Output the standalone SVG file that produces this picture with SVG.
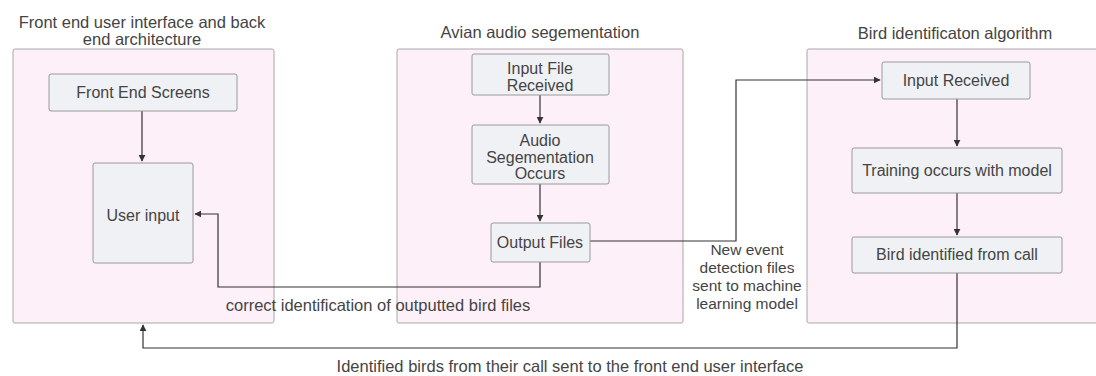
<svg xmlns="http://www.w3.org/2000/svg" width="1096" height="376" viewBox="0 0 1096 376">
  <style>
    text { font-family: "Liberation Sans", Arial, sans-serif; font-size: 16.5px; fill: #444; text-anchor: middle; }
    .label { font-size: 16px; }
    .note { font-size: 15.5px; }
    .cluster { fill: #fdf0f8; stroke: #a8a8a8; stroke-width: 1; }
    .node { fill: #f0f1f4; stroke: #9a9a9a; stroke-width: 1; }
    .edge { fill: none; stroke: #333; stroke-width: 1.2; }
  </style>
  <defs>
    <marker id="arrow" viewBox="0 0 10 10" refX="9" refY="5" markerWidth="7" markerHeight="7" orient="auto" markerUnits="userSpaceOnUse">
      <path d="M0,0 L10,5 L0,10 z" fill="#333"/>
    </marker>
  </defs>
  <rect width="1096" height="376" fill="#ffffff"/>

  <!-- clusters -->
  <g id="cluster-frontend">
    <rect class="cluster" x="13" y="49" width="261" height="274" rx="2"/>
    <text x="142" y="28">Front end user interface and back</text>
    <text x="142" y="45">end architecture</text>
  </g>
  <g id="cluster-segmentation">
    <rect class="cluster" x="397" y="49" width="286" height="274" rx="2"/>
    <text x="540" y="38">Avian audio segementation</text>
  </g>
  <g id="cluster-identification">
    <rect class="cluster" x="807" y="49" width="295" height="274" rx="2"/>
    <text x="955" y="39">Bird identificaton algorithm</text>
  </g>

  <!-- connectors -->
  <g id="connectors">
    <path class="edge" d="M142,111 V161" marker-end="url(#arrow)"/>
    <path class="edge" d="M540,95 V123" marker-end="url(#arrow)"/>
    <path class="edge" d="M540,184 V221" marker-end="url(#arrow)"/>
    <path class="edge" d="M957,99 V146" marker-end="url(#arrow)"/>
    <path class="edge" d="M957,193 V235" marker-end="url(#arrow)"/>
    <path class="edge" d="M540,262 V287 H218 V214 H195" marker-end="url(#arrow)"/>
    <path class="edge" d="M590,241 H736 V80 H880" marker-end="url(#arrow)"/>
    <path class="edge" d="M957,273 V348 H143 V325" marker-end="url(#arrow)"/>
    <text x="378" y="311">correct identification of outputted bird files</text>
    <text class="note" x="747" y="255">New event</text>
    <text class="note" x="747" y="273">detection files</text>
    <text class="note" x="747" y="291">sent to machine</text>
    <text class="note" x="747" y="309">learning model</text>
    <text x="570" y="372">Identified birds from their call sent to the front end user interface</text>
  </g>

  <!-- nodes -->
  <g id="front-end-screens">
    <rect class="node" x="49" y="74" width="188" height="37" rx="2"/>
    <text class="label" x="143" y="98">Front End Screens</text>
  </g>
  <g id="user-input">
    <rect class="node" x="93" y="163" width="100" height="100" rx="2"/>
    <text class="label" x="143" y="221">User input</text>
  </g>
  <g id="input-file-received">
    <rect class="node" x="472" y="54" width="137" height="41" rx="2"/>
    <text class="label" x="540" y="74">Input File</text>
    <text class="label" x="540" y="91">Received</text>
  </g>
  <g id="audio-segmentation">
    <rect class="node" x="472" y="125" width="137" height="59" rx="2"/>
    <text class="label" x="540" y="146">Audio</text>
    <text class="label" x="540" y="163">Segementation</text>
    <text class="label" x="540" y="179">Occurs</text>
  </g>
  <g id="output-files">
    <rect class="node" x="491" y="223" width="99" height="39" rx="2"/>
    <text class="label" x="540" y="248">Output Files</text>
  </g>
  <g id="input-received">
    <rect class="node" x="882" y="62" width="148" height="37" rx="2"/>
    <text class="label" x="956" y="86">Input Received</text>
  </g>
  <g id="training">
    <rect class="node" x="852" y="148" width="210" height="45" rx="2"/>
    <text class="label" x="957" y="176">Training occurs with model</text>
  </g>
  <g id="bird-identified">
    <rect class="node" x="852" y="237" width="210" height="36" rx="2"/>
    <text class="label" x="957" y="260">Bird identified from call</text>
  </g>
</svg>
